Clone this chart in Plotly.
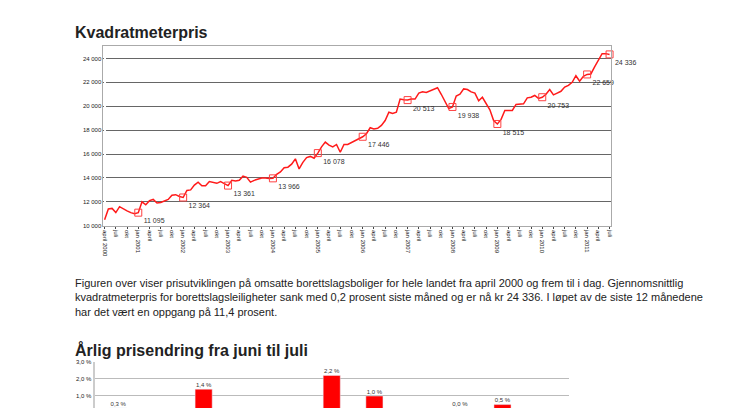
import plotly.graph_objects as go

# monthly price per m2, april 2000 - juli 2011
prices = [
    10500, 11400, 11450, 11100, 11600, 11400, 11250, 11100, 11000,
    11095, 12000, 11750, 12100, 12200, 11900, 11950, 12100, 12200, 12550, 12600, 12450,
    12364, 12950, 13000, 13400, 13650, 13350, 13350, 13700, 13650, 13550, 13700, 13500,
    13361, 13800, 13750, 13800, 14150, 14050, 13650, 13800, 13900, 14000, 14000, 13950,
    13966, 14300, 14500, 14850, 14900, 15150, 15600, 14750, 15300, 15700, 15800, 15650,
    16078, 16600, 17000, 16750, 16600, 16800, 16150, 16800, 16800, 16950, 17100, 17300,
    17446, 17700, 18200, 18100, 18150, 18400, 18800, 19500, 19400, 19500, 20600, 20550,
    20513, 20600, 20600, 21100, 21200, 21150, 21300, 21400, 21550, 21000, 20350, 19800,
    19938, 20850, 21000, 21450, 21400, 21200, 21100, 20450, 20750, 20200, 19700, 18800,
    18515, 18900, 19650, 19650, 19650, 20150, 20200, 20200, 20700, 20750, 20900, 20650,
    20753, 21000, 21400, 20950, 21100, 21250, 21600, 21750, 22000, 22550, 22100, 22500,
    22659, 22700, 23300, 23800, 24400, 24400, 24336,
]
marked = [9, 21, 33, 45, 57, 69, 81, 93, 105, 117, 129, 135]

bar_cats = [str(y) for y in range(2001, 2012)]
bar_vals = [0.3, -0.4, 1.4, -0.2, -0.6, 2.2, 1.0, -0.8, 0.0, 0.5, -0.3]
bar_text = ["0,3 %", "-0,4 %", "1,4 %", "-0,2 %", "-0,6 %", "2,2 %", "1,0 %", "-0,8 %", "0,0 %", "0,5 %", "-0,3 %"]

W, H, OFF = 730, 403, 8


def px(v):
    return (v - OFF) / W


def py(v):
    return 1 - (v - OFF) / H


n = len(prices)
x = list(range(n))
months = ["april", "juli", "okt", "jan"]
tickvals, ticktext = [], []
for i in range(0, n, 3):
    q = (i // 3) % 4
    yr = 2000 + (i + 3) // 12
    lab = months[q]
    if i == 0:
        lab = "april 2000"
    elif q == 3:
        lab = "jan " + str(yr)
    tickvals.append(i)
    ticktext.append(lab)

label_y = [max(v, 0.3) + 0.22 if v >= 0 else v - 0.3 for v in bar_vals]

fig = go.Figure()
fig.add_trace(go.Scatter(x=x, y=prices, mode="lines", line=dict(color="#ff1a1a", width=1.5),
                         xaxis="x", yaxis="y", showlegend=False))
fig.add_trace(go.Scatter(
    x=marked, y=[prices[i] for i in marked], mode="markers+text",
    marker=dict(symbol="square-open", color="#ff4040", size=7),
    text=[f"{prices[i]:,}".replace(",", " ") for i in marked],
    textposition="bottom right", textfont=dict(size=7, color="#333", family="Liberation Sans"),
    xaxis="x", yaxis="y", showlegend=False, cliponaxis=False))

fig.add_trace(go.Bar(x=bar_cats, y=bar_vals, marker_color="#ff0000", width=0.4,
                     xaxis="x2", yaxis="y2", showlegend=False))
fig.add_trace(go.Scatter(x=bar_cats, y=label_y, mode="text",
                         text=bar_text, textfont=dict(size=6, color="#333", family="Liberation Sans"),
                         xaxis="x2", yaxis="y2", showlegend=False))

fig.update_layout(
    width=W, height=H, margin=dict(l=0, r=0, t=0, b=0),
    paper_bgcolor="white", plot_bgcolor="white",
    font=dict(family="Liberation Sans", color="#222"),
    xaxis=dict(domain=[px(102), px(612)], range=[-0.3, n - 0.7], tickvals=tickvals, ticktext=ticktext,
               tickangle=90, tickfont=dict(size=6), showgrid=False, showline=True,
               linecolor="#aaa", mirror=True, ticks="outside", ticklen=2),
    yaxis=dict(domain=[py(226), py(44)], range=[10000, 25000], tickvals=list(range(10000, 25000, 2000)),
               ticktext=[f"{v:,}".replace(",", " ") for v in range(10000, 25000, 2000)],
               tickfont=dict(size=6), gridcolor="#666", gridwidth=0.8, showline=True,
               linecolor="#aaa", mirror=True, zeroline=False),
    xaxis2=dict(domain=[px(93), px(570)], showticklabels=False, showgrid=False, anchor="y2"),
    yaxis2=dict(domain=[0, py(364)], range=[0.3, 3.0], tickvals=[1, 2, 3],
                ticktext=["1,0 %", "2,0 %", "3,0 %"], tickfont=dict(size=6),
                gridcolor="#bbb", showline=True, linecolor="#ccc", linewidth=2, anchor="x2"),
    annotations=[
        dict(x=px(71), y=py(30), xref="paper", yref="paper", xanchor="left", yanchor="middle",
             text="<b>Kvadratmeterpris</b>", showarrow=False, font=dict(size=16, color="#222")),
        dict(x=px(71), y=py(352), xref="paper", yref="paper", xanchor="left", yanchor="middle",
             text="<b>Årlig prisendring fra juni til juli</b>", showarrow=False, font=dict(size=16, color="#222")),
        dict(x=px(71), y=py(299), xref="paper", yref="paper", xanchor="left", yanchor="middle",
             align="left", showarrow=False, font=dict(size=11, color="#222"),
             text="Figuren over viser prisutviklingen på omsatte borettslagsboliger for hele landet fra april 2000 og frem til i dag. Gjennomsnittlig<br>"
                  "kvadratmeterpris for borettslagsleiligheter sank med 0,2 prosent siste måned og er nå kr 24 336. I løpet av de siste 12 månedene<br>"
                  "har det vært en oppgang på 11,4 prosent."),
    ],
)

fig.write_html("out.html")
